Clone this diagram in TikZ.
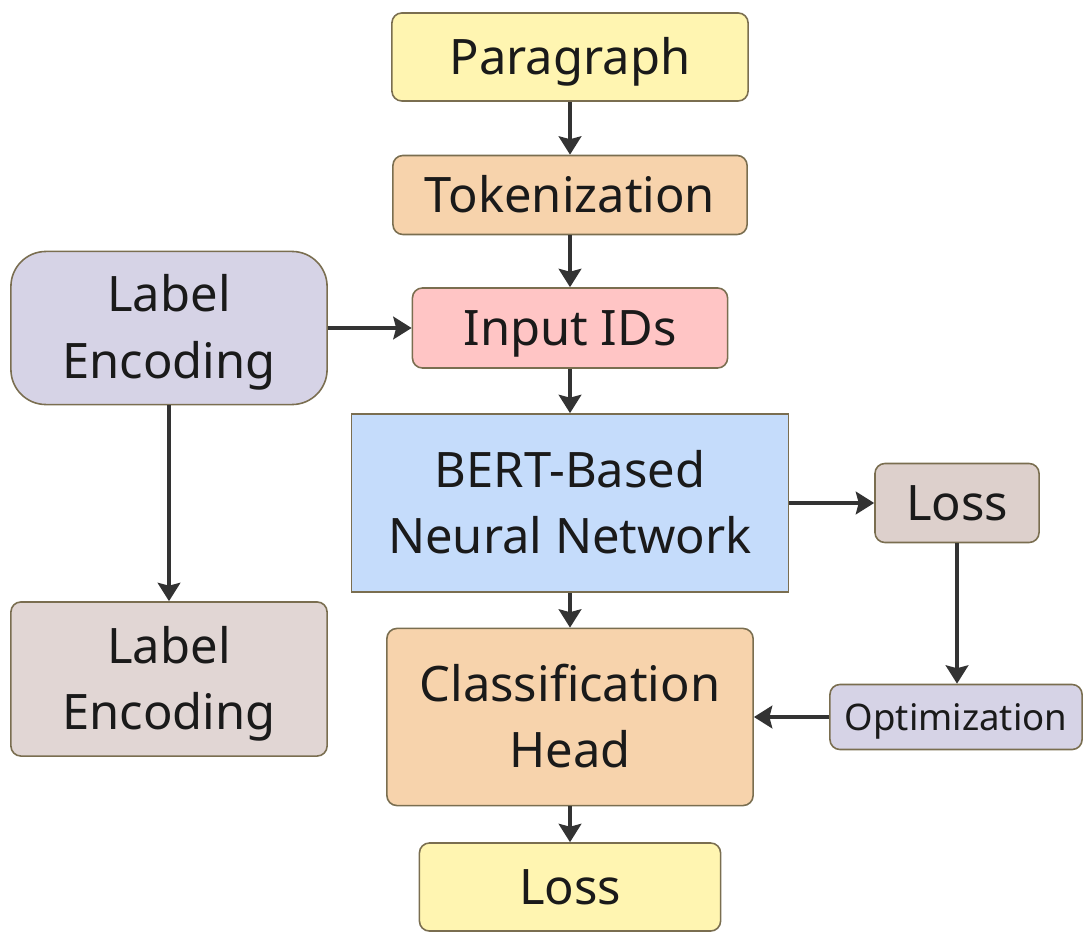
\documentclass[tikz,border=0pt]{standalone}
\usepackage{fontspec}
\setmainfont{Noto Sans}
\usepackage{tikz}
\usetikzlibrary{arrows.meta, positioning, calc}
\definecolor{edgeline}{RGB}{122, 110, 80}
\definecolor{arrowgray}{RGB}{51, 51, 51}
\definecolor{textdark}{RGB}{26, 26, 26}
\definecolor{paleyellow}{RGB}{255, 245, 177}
\definecolor{peach}{RGB}{247, 211, 172}
\definecolor{palepink}{RGB}{255, 197, 197}
\definecolor{lavender}{RGB}{214, 211, 230}
\definecolor{paleblue}{RGB}{197, 220, 251}
\definecolor{taupe}{RGB}{221, 208, 204}
\definecolor{palerose}{RGB}{225, 214, 212}

\begin{document}
\begin{tikzpicture}[
          x=0.01cm, y=-0.01cm,
          stage/.style={rectangle, draw=edgeline, line width=0.45pt, rounded corners=0.1cm, align=center, text=textdark, font=\fontsize{13.9}{19}\selectfont, inner sep=0pt, text height=9.9pt, text depth=0pt},
          twoline/.style={text height=28.9pt},
          flow/.style={-{Stealth[length=5.2pt, width=6.4pt, inset=0.8pt]}, draw=arrowgray, line width=1.4pt}
        ]
          \useasboundingbox (0,0) rectangle (1083,931);

          % Main column
          \node[stage, fill=paleyellow, minimum width=3.56cm, minimum height=0.88cm] (para) at (570,57) {Paragraph};
          \node[stage, fill=peach, minimum width=3.54cm, minimum height=0.79cm] (token) at (570,195) {Tokenization};
          \node[stage, fill=palepink, minimum width=3.15cm, minimum height=0.80cm] (ids) at (570,328) {Input IDs};
          \node[stage, twoline, fill=paleblue, rounded corners=0pt, minimum width=4.37cm, minimum height=1.78cm] (bert) at (570,503) {BERT-Based\\Neural Network};
          \node[stage, twoline, fill=peach, minimum width=3.66cm, minimum height=1.77cm] (head) at (570,717) {Classification\\Head};
          \node[stage, fill=paleyellow, minimum width=3.01cm, minimum height=0.88cm] (lossB) at (570,887) {Loss};

          % Label side
          \node[stage, twoline, fill=lavender, rounded corners=0.35cm, minimum width=3.16cm, minimum height=1.53cm] (labelA) at (169,328) {Label\\Encoding};
          \node[stage, twoline, fill=palerose, minimum width=3.16cm, minimum height=1.54cm] (labelB) at (169,679) {Label\\Encoding};

          % Training loop
          \node[stage, fill=taupe, minimum width=1.64cm, minimum height=0.79cm] (lossR) at (957,503) {Loss};
          \node[stage, fill=lavender, minimum width=2.52cm, minimum height=0.65cm, font=\fontsize{10.4}{12}\selectfont, text height=7.4pt] (optim) at (956,717) {Optimization};

          \draw[flow] (para) -- (token);
          \draw[flow] (token) -- (ids);
          \draw[flow] (ids) -- (bert);
          \draw[flow] (bert) -- (head);
          \draw[flow] (head) -- (lossB);
          \draw[flow] (labelA) -- (ids);
          \draw[flow] (labelA) -- (labelB);
          \draw[flow] (bert) -- (lossR);
          \draw[flow] (lossR.south) -- (lossR.south |- optim.north);
          \draw[flow] (optim) -- (head);
        \end{tikzpicture}
\end{document}
